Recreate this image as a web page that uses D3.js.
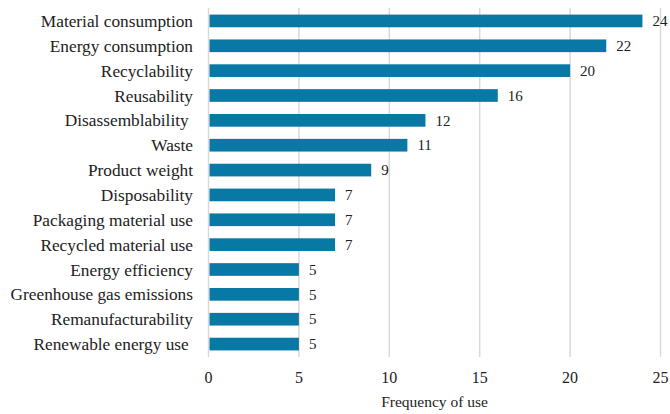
<!DOCTYPE html>
<html><head><meta charset="utf-8">
<script src="https://cdn.jsdelivr.net/npm/d3@7"></script>
<style>body{margin:0;background:#fff}svg{display:block}</style>
</head><body>
<svg id="c" width="670" height="414"></svg>
<script>
const categories = ["Material consumption","Energy consumption","Recyclability","Reusability","Disassemblability ","Waste","Product weight","Disposability","Packaging material use","Recycled material use","Energy efficiency","Greenhouse gas emissions","Remanufacturability","Renewable energy use "];
const values = [24,22,20,16,12,11,9,7,7,7,5,5,5,5];
const xTicks = [0,5,10,15,20,25];
const xTitle = "Frequency of use";

const FONT = "'Liberation Serif', 'Times New Roman', 'DejaVu Serif', serif";
const svg = d3.select("#c");
const x = d3.scaleLinear().domain([0,25]).range([208.5,660.5]);
const y = d3.scaleBand().domain(categories.map((d,i)=>i)).range([8.5,356.5]).paddingInner(0.49).paddingOuter(0.245);

svg.append("g").selectAll("line").data(xTicks).join("line")
  .attr("x1",d=>x(d)).attr("x2",d=>x(d)).attr("y1",8).attr("y2",357)
  .attr("stroke","#d9d9d9").attr("stroke-width",1.5);

svg.append("g").selectAll("rect").data(values).join("rect")
  .attr("x",x(0)+1).attr("y",(d,i)=>y(i)).attr("width",d=>x(d)-x(0)-1).attr("height",y.bandwidth())
  .attr("fill","#0878a4");

const txt = (g)=>g.attr("font-family",FONT).style("font-family",FONT).attr("fill","#222");

svg.append("g").call(txt).selectAll("text").data(values).join("text")
  .attr("x",d=>x(d)+10).attr("y",(d,i)=>y(i)+y.bandwidth()/2).attr("dy","0.35em")
  .attr("font-size",15).text(d=>d);

svg.append("g").call(txt).selectAll("text").data(categories).join("text")
  .attr("x",193).attr("y",(d,i)=>y(i)+y.bandwidth()/2).attr("dy","0.35em")
  .attr("text-anchor","end").attr("font-size",17.3).attr("xml:space","preserve").style("white-space","pre").text(d=>d);

svg.append("g").call(txt).selectAll("text").data(xTicks).join("text")
  .attr("x",d=>x(d)).attr("y",377).attr("dy","0.35em").attr("text-anchor","middle")
  .attr("font-size",16).text(d=>d);

svg.append("g").call(txt).append("text").attr("x",x(12.5)).attr("y",402).attr("dy","0.35em").attr("text-anchor","middle")
  .attr("font-size",15.5).text(xTitle);
</script>
</body></html>
